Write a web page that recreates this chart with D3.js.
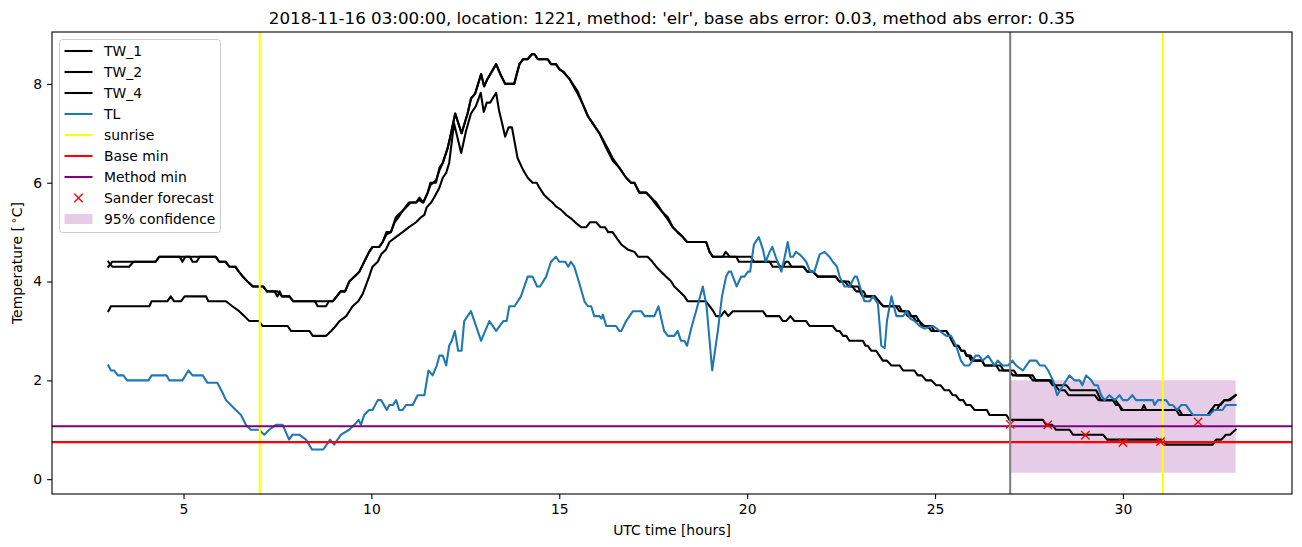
<!DOCTYPE html>
<html><head><meta charset="utf-8">
<script src="https://cdn.jsdelivr.net/npm/d3@7"></script>
<style>body{margin:0;background:#fff} text{font-family:"DejaVu Sans",sans-serif;fill:#000}</style>
</head><body><svg id="c" width="1302" height="547"></svg>
<script>
const titleText = "2018-11-16 03:00:00, location: 1221, method: 'elr', base abs error: 0.03, method abs error: 0.35";
const xTicks = [5, 10, 15, 20, 25, 30];
const yTicks = [0, 2, 4, 6, 8];
const seriesNames = ["TW_1", "TW_2", "TW_4", "TL"];

const tw1 = [[3.0,4.3],[3.1,4.4],[4.26,4.4],[4.35,4.5],[5.86,4.5],[5.95,4.4],[6.12,4.4],[6.22,4.3],[6.38,4.3],[6.47,4.2],[6.58,4.1],[6.7,4.0],[6.85,3.9],[7.12,3.9],[7.22,3.8],[7.5,3.8],[7.62,3.7],[7.82,3.7],[7.92,3.6],[8.97,3.6],[9.08,3.7],[9.18,3.8],[9.3,3.8],[9.41,4.0],[9.55,4.1],[9.68,4.2],[9.81,4.4],[9.94,4.6],[10.03,4.7],[10.21,4.7],[10.3,4.8],[10.4,5.0],[10.52,5.0],[10.65,5.3],[10.79,5.4],[10.92,5.5],[11.05,5.6],[11.19,5.6],[11.28,5.7],[11.38,5.6],[11.5,5.8],[11.57,6.0],[11.72,6.0],[11.81,6.3],[11.9,6.4],[12.03,6.7],[12.12,7.0],[12.23,7.4],[12.4,7.0],[12.56,7.4],[12.65,7.7],[12.76,7.8],[12.92,8.2],[13.0,7.95],[13.09,8.1],[13.32,8.4],[13.43,8.2],[13.56,8.0],[13.8,8.0],[13.94,8.4],[14.04,8.5],[14.16,8.5],[14.27,8.6],[14.34,8.6],[14.43,8.5],[14.69,8.5],[14.78,8.4],[14.91,8.4],[15.0,8.3],[15.1,8.25],[15.27,8.1],[15.49,7.85],[15.62,7.6],[15.76,7.35],[15.89,7.2],[16.07,7.0],[16.25,6.75],[16.42,6.5],[16.6,6.3],[16.78,6.1],[16.91,6.0],[17.0,6.0],[17.13,5.8],[17.31,5.8],[17.44,5.7],[17.58,5.6],[17.75,5.4],[17.89,5.3],[18.02,5.1],[18.15,5.0],[18.29,4.9],[18.4,4.8],[18.91,4.8],[19.0,4.6],[19.09,4.5],[19.71,4.5],[19.78,4.4],[20.8,4.4],[20.88,4.3],[21.5,4.3],[21.6,4.2],[21.75,4.2],[21.88,4.1],[22.36,4.1],[22.45,4.0],[22.6,4.0],[22.7,3.9],[22.8,3.9],[22.9,3.8],[23.0,3.8],[23.07,3.7],[23.4,3.7],[23.51,3.6],[23.62,3.5],[23.96,3.5],[24.05,3.4],[24.2,3.4],[24.27,3.3],[24.4,3.3],[24.5,3.2],[24.58,3.2],[24.65,3.1],[24.8,3.1],[24.9,3.0],[25.3,3.0],[25.38,2.9],[25.45,2.8],[25.52,2.7],[25.62,2.7],[25.7,2.6],[25.78,2.6],[25.83,2.5],[25.9,2.5],[25.96,2.4],[26.25,2.4],[26.32,2.3],[26.63,2.3],[26.71,2.2],[26.98,2.2],[27.07,2.1],[27.5,2.1],[27.6,2.0],[28.04,2.0],[28.13,1.9],[28.5,1.9],[28.6,1.8],[29.29,1.8],[29.35,1.7],[29.42,1.6],[29.73,1.6],[29.82,1.5],[29.9,1.5],[29.96,1.4],[31.42,1.4],[31.5,1.3],[32.3,1.3],[32.39,1.4],[32.5,1.4],[32.57,1.5],[32.7,1.6],[32.8,1.6],[33.0,1.7]];

const tw2 = [[3.0,4.4],[3.1,4.3],[3.55,4.3],[3.67,4.4],[4.26,4.4],[4.35,4.5],[4.9,4.5],[4.97,4.4],[5.05,4.5],[5.17,4.5],[5.24,4.4],[5.35,4.4],[5.43,4.5],[5.86,4.5],[5.95,4.4],[6.12,4.4],[6.22,4.3],[6.38,4.3],[6.47,4.2],[6.58,4.1],[6.7,4.0],[6.85,3.9],[7.12,3.9],[7.22,3.8],[7.42,3.8],[7.5,3.7],[7.56,3.8],[7.62,3.7],[7.82,3.7],[7.92,3.6],[8.5,3.6],[8.57,3.5],[8.79,3.5],[8.87,3.6],[8.97,3.6],[9.08,3.7],[9.18,3.8],[9.3,3.8],[9.41,4.0],[9.55,4.1],[9.68,4.2],[9.81,4.4],[9.94,4.6],[10.03,4.7],[10.21,4.7],[10.3,4.8],[10.4,4.95],[10.52,5.0],[10.62,5.2],[10.72,5.3],[10.85,5.45],[11.0,5.6],[11.19,5.6],[11.26,5.65],[11.38,5.6],[11.5,5.8],[11.57,5.95],[11.72,6.05],[11.81,6.25],[11.9,6.4],[12.03,6.7],[12.12,7.0],[12.23,7.4],[12.4,7.0],[12.56,7.4],[12.65,7.7],[12.76,7.8],[12.92,8.2],[13.0,7.95],[13.09,8.1],[13.32,8.4],[13.43,8.2],[13.56,8.0],[13.8,8.0],[13.94,8.4],[14.04,8.5],[14.16,8.5],[14.27,8.6],[14.34,8.6],[14.43,8.5],[14.69,8.5],[14.78,8.4],[14.91,8.4],[15.0,8.3],[15.1,8.25],[15.27,8.1],[15.49,7.8],[15.62,7.6],[15.76,7.35],[15.89,7.2],[16.07,7.0],[16.25,6.7],[16.42,6.45],[16.6,6.3],[16.78,6.1],[16.91,6.0],[17.0,6.0],[17.13,5.8],[17.31,5.8],[17.44,5.7],[17.58,5.55],[17.75,5.4],[17.89,5.25],[18.02,5.1],[18.15,5.0],[18.29,4.9],[18.4,4.8],[18.91,4.8],[19.0,4.6],[19.09,4.5],[19.35,4.5],[19.43,4.6],[19.54,4.5],[20.1,4.5],[20.18,4.4],[20.6,4.4],[20.68,4.3],[20.95,4.3],[21.03,4.4],[21.1,4.4],[21.18,4.3],[21.5,4.3],[21.6,4.2],[21.75,4.2],[21.88,4.1],[22.36,4.1],[22.45,4.0],[22.7,4.0],[22.78,3.9],[22.95,3.9],[23.02,3.8],[23.1,3.8],[23.17,3.7],[23.4,3.7],[23.51,3.6],[23.62,3.5],[24.05,3.5],[24.12,3.4],[24.3,3.4],[24.37,3.3],[24.5,3.3],[24.58,3.2],[24.72,3.1],[24.9,3.1],[24.98,3.0],[25.3,3.0],[25.38,2.9],[25.45,2.8],[25.52,2.7],[25.62,2.7],[25.7,2.6],[25.78,2.6],[25.85,2.5],[25.95,2.5],[26.02,2.4],[26.25,2.4],[26.32,2.3],[26.75,2.3],[26.82,2.2],[27.1,2.2],[27.18,2.1],[27.6,2.1],[27.68,2.0],[28.1,2.0],[28.2,1.9],[28.3,1.8],[28.45,1.8],[28.55,1.7],[29.25,1.7],[29.35,1.6],[29.8,1.6],[29.9,1.5],[30.0,1.4],[30.5,1.4],[30.56,1.5],[30.62,1.4],[31.5,1.4],[31.58,1.3],[32.25,1.3],[32.35,1.4],[32.45,1.5],[32.6,1.5],[32.7,1.6],[32.85,1.6],[33.0,1.7]];

const tw4 = [[3.0,3.4],[3.07,3.5],[4.09,3.5],[4.15,3.6],[4.57,3.6],[4.66,3.7],[4.75,3.6],[4.93,3.6],[5.03,3.7],[5.6,3.7],[5.66,3.6],[6.13,3.6],[6.3,3.5],[6.48,3.4],[6.62,3.3],[6.75,3.2],[7.01,3.2],[7.1,3.1],[7.77,3.1],[7.86,3.0],[8.35,3.0],[8.44,2.9],[8.79,2.9],[8.93,3.0],[9.05,3.1],[9.15,3.2],[9.33,3.3],[9.5,3.5],[9.65,3.6],[9.77,3.75],[9.94,4.1],[10.03,4.3],[10.17,4.4],[10.26,4.55],[10.39,4.65],[10.48,4.8],[10.65,4.9],[10.83,5.0],[11.0,5.1],[11.19,5.2],[11.32,5.3],[11.41,5.35],[11.47,5.5],[11.59,5.6],[11.67,5.7],[11.81,5.9],[11.9,6.1],[11.99,6.2],[12.07,6.4],[12.2,7.2],[12.39,6.6],[12.52,7.05],[12.65,7.4],[12.78,7.55],[12.91,7.82],[12.99,7.43],[13.07,7.62],[13.16,7.62],[13.32,7.82],[13.4,7.45],[13.48,7.2],[13.56,6.93],[13.65,7.12],[13.74,7.12],[13.89,6.5],[14.03,6.27],[14.16,6.1],[14.29,6.0],[14.4,6.0],[14.47,5.9],[14.6,5.75],[14.74,5.65],[14.82,5.6],[14.91,5.52],[15.05,5.45],[15.18,5.35],[15.31,5.28],[15.45,5.18],[15.58,5.1],[15.72,5.1],[15.82,5.2],[15.98,5.2],[16.1,5.1],[16.22,5.1],[16.3,5.0],[16.42,5.0],[16.51,4.9],[16.65,4.75],[16.82,4.65],[17.0,4.6],[17.1,4.5],[17.35,4.5],[17.48,4.4],[17.58,4.3],[17.71,4.2],[17.84,4.1],[17.98,4.0],[18.06,3.9],[18.2,3.8],[18.33,3.7],[18.42,3.6],[18.9,3.6],[19.0,3.5],[19.1,3.4],[19.17,3.3],[19.3,3.3],[19.4,3.4],[19.5,3.3],[19.62,3.4],[20.42,3.4],[20.51,3.3],[20.86,3.3],[20.95,3.2],[21.04,3.2],[21.15,3.3],[21.26,3.2],[21.57,3.2],[21.66,3.1],[22.28,3.1],[22.38,3.0],[22.46,3.0],[22.55,2.9],[22.64,2.9],[22.72,2.8],[23.08,2.8],[23.15,2.7],[23.21,2.7],[23.3,2.6],[23.43,2.6],[23.52,2.5],[23.61,2.4],[23.72,2.4],[23.84,2.3],[24.06,2.3],[24.15,2.2],[24.45,2.2],[24.54,2.1],[24.65,2.1],[24.76,2.0],[24.9,2.0],[25.03,1.9],[25.15,1.9],[25.25,1.8],[25.38,1.8],[25.47,1.7],[25.55,1.7],[25.65,1.6],[25.75,1.6],[25.83,1.5],[25.95,1.5],[26.05,1.4],[26.38,1.4],[26.45,1.3],[26.9,1.3],[26.98,1.2],[27.87,1.2],[27.96,1.1],[28.12,1.1],[28.22,1.0],[28.58,1.0],[28.67,0.9],[29.47,0.9],[29.58,0.8],[31.07,0.8],[31.15,0.7],[32.39,0.7],[32.48,0.8],[32.62,0.8],[32.74,0.9],[32.85,0.9],[33.0,1.0]];

const tl = [[3.0,2.3],[3.07,2.2],[3.15,2.2],[3.25,2.1],[3.4,2.1],[3.5,2.0],[4.07,2.0],[4.15,2.1],[4.55,2.1],[4.62,2.0],[4.97,2.0],[5.13,2.2],[5.24,2.1],[5.51,2.1],[5.64,1.95],[5.9,1.95],[6.04,1.75],[6.13,1.6],[6.26,1.5],[6.39,1.4],[6.53,1.3],[6.66,1.1],[6.79,1.0],[7.01,1.0],[7.15,0.9],[7.28,1.0],[7.46,1.1],[7.64,1.1],[7.81,0.8],[7.9,0.9],[8.08,0.9],[8.26,0.8],[8.42,0.6],[8.72,0.6],[8.9,0.8],[9.01,0.7],[9.19,0.9],[9.41,1.0],[9.55,1.1],[9.66,1.2],[9.72,1.1],[9.81,1.3],[9.94,1.4],[10.03,1.4],[10.17,1.6],[10.26,1.6],[10.41,1.4],[10.48,1.5],[10.57,1.5],[10.66,1.6],[10.74,1.4],[10.83,1.4],[10.92,1.5],[11.1,1.5],[11.23,1.7],[11.41,1.7],[11.52,2.2],[11.63,2.1],[11.74,2.3],[11.81,2.5],[11.9,2.5],[11.99,2.3],[12.07,2.7],[12.14,2.8],[12.22,3.0],[12.31,2.6],[12.4,2.6],[12.47,3.2],[12.65,3.4],[12.92,2.8],[13.0,2.95],[13.14,3.2],[13.32,3.0],[13.51,3.2],[13.6,3.2],[13.67,3.5],[13.81,3.5],[13.98,3.7],[14.16,4.1],[14.29,4.1],[14.41,3.9],[14.49,3.9],[14.65,4.1],[14.78,4.4],[14.91,4.5],[15.0,4.4],[15.16,4.4],[15.24,4.3],[15.31,4.4],[15.4,4.3],[15.52,4.0],[15.67,3.6],[15.76,3.5],[15.85,3.5],[15.93,3.3],[16.07,3.3],[16.12,3.25],[16.16,3.33],[16.25,3.1],[16.51,3.1],[16.6,3.0],[16.65,3.0],[16.78,3.2],[16.96,3.4],[17.18,3.4],[17.27,3.3],[17.53,3.3],[17.64,3.5],[17.79,3.0],[17.89,2.9],[18.06,2.9],[18.15,3.0],[18.24,2.8],[18.33,2.8],[18.4,2.7],[18.51,3.05],[18.64,3.4],[18.82,3.9],[18.92,3.5],[19.07,2.2],[19.22,3.0],[19.33,3.7],[19.44,4.1],[19.51,4.2],[19.57,4.2],[19.72,3.9],[19.84,4.1],[19.93,4.1],[20.02,4.2],[20.08,4.2],[20.18,4.75],[20.31,4.9],[20.42,4.65],[20.49,4.4],[20.6,4.6],[20.67,4.7],[20.76,4.5],[20.91,4.2],[21.0,4.5],[21.08,4.8],[21.15,4.5],[21.22,4.5],[21.3,4.6],[21.39,4.55],[21.46,4.5],[21.57,4.4],[21.68,4.2],[21.79,4.2],[21.93,4.55],[22.06,4.6],[22.19,4.5],[22.28,4.4],[22.39,4.3],[22.46,4.1],[22.59,3.9],[22.73,3.9],[22.86,4.1],[22.92,4.1],[23.04,3.8],[23.12,3.6],[23.26,3.6],[23.35,3.7],[23.48,3.55],[23.57,2.7],[23.66,2.65],[23.72,3.2],[23.84,3.7],[23.97,3.3],[24.15,3.3],[24.24,3.4],[24.34,3.25],[24.46,3.2],[24.59,3.1],[24.72,3.05],[24.95,3.1],[25.3,2.9],[25.43,2.9],[25.56,2.7],[25.69,2.4],[25.78,2.3],[25.91,2.3],[26.08,2.5],[26.17,2.5],[26.27,2.4],[26.41,2.5],[26.58,2.3],[26.67,2.4],[26.8,2.3],[26.94,2.3],[27.06,2.4],[27.16,2.3],[27.34,2.2],[27.52,2.4],[27.7,2.4],[27.79,2.3],[27.92,2.3],[28.01,2.2],[28.14,2.0],[28.25,1.7],[28.41,1.9],[28.58,2.1],[28.71,2.0],[28.85,2.0],[28.92,1.9],[29.02,2.1],[29.16,2.0],[29.24,1.9],[29.33,1.9],[29.42,1.7],[29.51,1.6],[29.64,1.7],[29.78,1.6],[29.91,1.7],[30.0,1.6],[30.13,1.6],[30.25,1.7],[30.35,1.6],[30.8,1.6],[30.84,1.5],[30.93,1.6],[31.15,1.6],[31.24,1.5],[31.33,1.5],[31.44,1.4],[31.55,1.5],[31.68,1.5],[31.86,1.3],[32.3,1.3],[32.43,1.4],[32.65,1.4],[32.74,1.5],[33.0,1.5]];

const sunrise = [7.03, 31.06];
const forecastStart = 27.0;
const baseMin = 0.75;
const methodMin = 1.07;
const sanderTimes = [27, 28, 29, 30, 31, 32];
const sanderValues = [1.11, 1.10, 0.89, 0.74, 0.76, 1.16];
const confTimes = [27, 33];
const confLow = 0.13;
const confHigh = 2.0;
const legendLabels = ["TW_1", "TW_2", "TW_4", "TL", "sunrise", "Base min", "Method min", "Sander forecast", "95% confidence"];

const svg = d3.select("#c");
const L = 52, R = 1292, T = 32, B = 494;
const LW = 2.08;
const x = d3.scaleLinear().domain([1.5, 34.5]).range([L, R]);
const y = d3.scaleLinear().domain([-0.3, 9.05]).range([B, T]);

svg.append("rect").attr("width", 1302).attr("height", 547).attr("fill", "#fff");
svg.append("defs").append("clipPath").attr("id", "clip").append("rect")
  .attr("x", L).attr("y", T).attr("width", R - L).attr("height", B - T);
const g = svg.append("g").attr("clip-path", "url(#clip)");

// confidence band (below lines)
g.append("path").datum(confTimes)
  .attr("d", d3.area().x(d => x(d)).y0(y(confLow)).y1(y(confHigh)))
  .attr("fill", "purple").attr("fill-opacity", 0.2);

const line = d3.line().x(d => x(d[0])).y(d => y(d[1]));
const series = [tw1, tw2, tw4, tl];
const colors = ["#000", "#000", "#000", "#1f77b4"];
series.forEach((s, i) => {
  g.append("path").datum(s).attr("d", line).attr("fill", "none")
    .attr("stroke", colors[i]).attr("stroke-width", LW)
    .attr("stroke-linejoin", "round").attr("stroke-linecap", "square");
});

sunrise.forEach(t => {
  g.append("line").attr("x1", x(t)).attr("x2", x(t)).attr("y1", T).attr("y2", B)
    .attr("stroke", "yellow").attr("stroke-width", LW);
});
[[baseMin, "red"], [methodMin, "purple"]].forEach(([v, c]) => {
  g.append("line").attr("x1", L).attr("x2", R).attr("y1", y(v)).attr("y2", y(v))
    .attr("stroke", c).attr("stroke-width", LW);
});
const xm = "M-4.2,-4.2L4.2,4.2M-4.2,4.2L4.2,-4.2";
sanderTimes.forEach((t, i) => {
  g.append("path").attr("d", xm).attr("transform", `translate(${x(t)},${y(sanderValues[i])})`)
    .attr("stroke", "red").attr("stroke-width", 1.4).attr("fill", "none");
});
g.append("line").attr("x1", x(forecastStart)).attr("x2", x(forecastStart)).attr("y1", T).attr("y2", B)
  .attr("stroke", "grey").attr("stroke-width", LW);

// axes
const xa = svg.append("g").attr("transform", `translate(0,${B})`)
  .call(d3.axisBottom(x).tickValues(xTicks).tickFormat(d3.format("d")).tickSize(4.9).tickPadding(4.9).tickSizeOuter(0));
const ya = svg.append("g").attr("transform", `translate(${L},0)`)
  .call(d3.axisLeft(y).tickValues(yTicks).tickFormat(d3.format("d")).tickSize(4.9).tickPadding(4.9).tickSizeOuter(0));
[xa, ya].forEach(a => {
  a.select(".domain").remove();
  a.selectAll("line").attr("stroke", "#000").attr("stroke-width", 1.1);
  a.selectAll("text").attr("font-size", "13.9px").attr("font-family", "DejaVu Sans").attr("fill", "#000");
});
svg.append("rect").attr("x", L).attr("y", T).attr("width", R - L).attr("height", B - T)
  .attr("fill", "none").attr("stroke", "#000").attr("stroke-width", 1.1);

svg.append("text").attr("x", (L + R) / 2).attr("y", 24).attr("text-anchor", "middle")
  .attr("font-size", "16.7px").text(titleText);
svg.append("text").attr("x", (L + R) / 2).attr("y", 535).attr("text-anchor", "middle")
  .attr("font-size", "13.9px").text("UTC time [hours]");
const yl = svg.append("text").attr("transform", `translate(22,${(T + B) / 2}) rotate(-90)`)
  .attr("text-anchor", "middle").attr("font-size", "13.9px");
yl.append("tspan").text("Temperature [\u2009");
yl.append("tspan").attr("dy", -5).attr("font-size", "10px").text("\u2218");
yl.append("tspan").attr("dy", 5).text("C]");

// legend
const lg = svg.append("g");
lg.append("rect").attr("x", 59.5).attr("y", 39.5).attr("width", 161).attr("height", 193).attr("rx", 3)
  .attr("fill", "#fff").attr("fill-opacity", 0.8).attr("stroke", "#ccc").attr("stroke-width", 1);
const handleColors = ["#000", "#000", "#000", "#1f77b4", "yellow", "red", "purple"];
legendLabels.forEach((lab, i) => {
  const cy = 51 + 21 * i;
  if (i < 7) {
    lg.append("line").attr("x1", 64.5).attr("x2", 92.5).attr("y1", cy).attr("y2", cy)
      .attr("stroke", handleColors[i]).attr("stroke-width", LW);
  } else if (i === 7) {
    lg.append("path").attr("d", xm).attr("transform", `translate(78.5,${cy})`)
      .attr("stroke", "red").attr("stroke-width", 1.4).attr("fill", "none");
  } else {
    lg.append("rect").attr("x", 64.5).attr("y", cy - 5).attr("width", 28).attr("height", 10)
      .attr("fill", "purple").attr("fill-opacity", 0.2);
  }
  lg.append("text").attr("x", 104).attr("y", cy).attr("dy", "0.36em").attr("font-size", "13.9px").text(lab);
});
</script></body></html>
